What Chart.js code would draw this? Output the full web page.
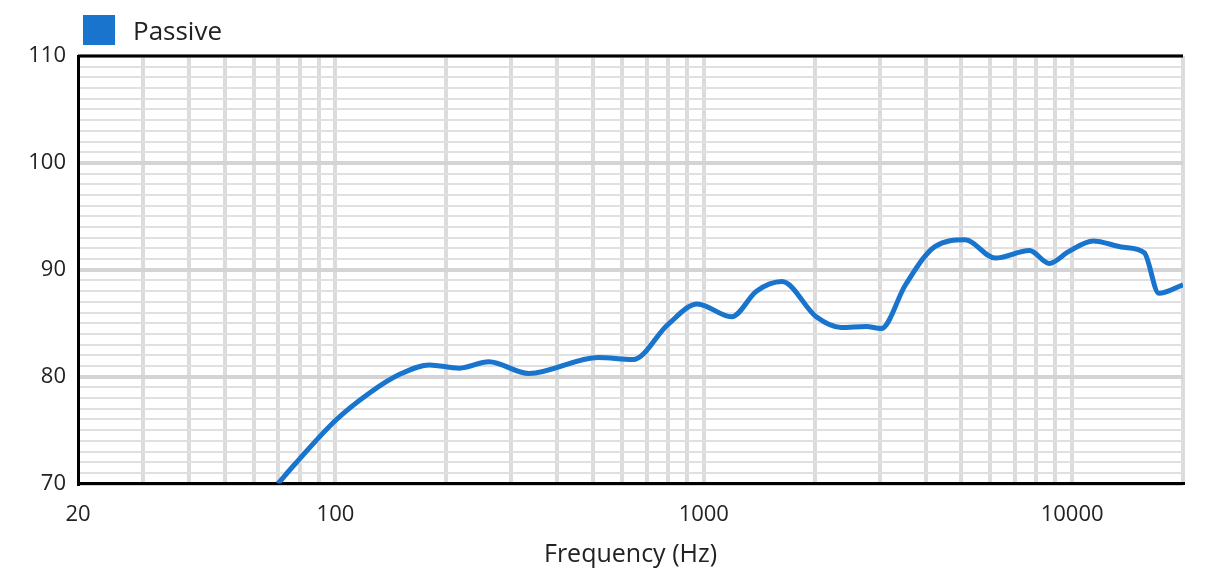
<!DOCTYPE html>
<html>
<head>
<script src="https://cdn.jsdelivr.net/npm/chart.js@4"></script>
<style>
  body { margin: 0; background: #fff; }
  #wrap { position: relative; width: 1206px; height: 581px; }
  #legend { position: absolute; left: 83px; top: 12px; font: 26px "Open Sans", sans-serif; color: #222; display: flex; align-items: center; }
  #legend span { display: inline-block; width: 32px; height: 30px; background: #1874cd; margin-right: 18px; }
</style>
</head>
<body>
<div id="wrap">
  <canvas id="fr" width="1206" height="581"></canvas>
  <div id="legend"><span></span>Passive</div>
</div>
<script>
var freqs = [69.8, 78, 100, 124, 149, 180, 217, 261, 335, 517, 642, 800, 960, 1190, 1390, 1630, 2020, 2360, 2760, 3030, 3530, 4250, 5120, 6180, 7660, 8670, 9780, 11400, 13800, 15700, 17200, 20000];
var passive = [70, 71.9, 75.9, 78.5, 80.2, 81.1, 80.8, 81.4, 80.3, 81.8, 81.6, 84.9, 86.8, 85.6, 88.0, 88.9, 85.6, 84.6, 84.7, 84.5, 88.6, 92.2, 92.8, 91.1, 91.8, 90.6, 91.7, 92.7, 92.1, 91.6, 87.8, 88.6];
var xLabels = [20, 100, 1000, 10000];
var yLabels = [70, 80, 90, 100, 110];

var xTicks = [];
[10, 100, 1000, 10000].forEach(function (d) {
    for (var m = 1; m < 10; m++) {
        var v = d * m;
        if (v >= 20 && v <= 20000) xTicks.push(v);
    }
});
xTicks.push(20000);

var points = freqs.map(function (f, i) { return { x: f, y: passive[i] }; });

new Chart(document.getElementById('fr').getContext('2d'), {
    type: 'line',
    data: {
        datasets: [{
            label: 'Passive',
            data: points,
            borderColor: '#1874cd',
            borderWidth: 5,
            pointRadius: 0,
            cubicInterpolationMode: 'monotone'
        }]
    },
    options: {
        responsive: false,
        animation: false,
        layout: { padding: { left: 0, right: 23, top: 56, bottom: 7 } },
        plugins: { legend: { display: false }, tooltip: { enabled: false } },
        scales: {
            x: {
                type: 'logarithmic',
                min: 20, max: 20000,
                afterBuildTicks: function (ax) { ax.ticks = xTicks.map(function (v) { return { value: v }; }); },
                ticks: {
                    autoSkip: false, maxRotation: 0, padding: 18,
                    font: { family: 'Open Sans', size: 22 }, color: '#222',
                    callback: function (v) { return xLabels.indexOf(v) >= 0 ? String(v) : ''; }
                },
                grid: {
                    color: function (c) { return (c.tick && c.tick.value === 20) ? 'rgba(0,0,0,0)' : '#dcdcdc'; },
                    lineWidth: 4, drawTicks: false
                },
                border: { color: '#000', width: 3 },
                title: { display: true, text: 'Frequency (Hz)', font: { family: 'Open Sans', size: 25 }, color: '#222', padding: { top: -6 } }
            },
            y: {
                min: 70, max: 110,
                afterFit: function (ax) { ax.width = 78; },
                ticks: {
                    stepSize: 1, autoSkip: false, padding: 12,
                    font: { family: 'Open Sans', size: 22 }, color: '#222',
                    callback: function (v) { return yLabels.indexOf(v) >= 0 ? String(v) : ''; }
                },
                grid: {
                    color: function (c) { return (c.tick && c.tick.value % 10 === 0) ? '#d4d4d4' : '#e0e0e0'; },
                    lineWidth: function (c) { return (c.tick && c.tick.value % 10 === 0) ? 4 : 2; },
                    drawTicks: false
                },
                border: { color: '#000', width: 3 }
            }
        }
    },
    plugins: [{
        id: 'topBorder',
        afterDraw: function (chart) {
            var a = chart.chartArea, ctx = chart.ctx;
            ctx.save();
            ctx.strokeStyle = '#000';
            ctx.lineWidth = 3;
            ctx.beginPath();
            ctx.moveTo(a.left, a.top);
            ctx.lineTo(a.right, a.top);
            ctx.stroke();
            ctx.restore();
        }
    }]
});
</script>
</body>
</html>
